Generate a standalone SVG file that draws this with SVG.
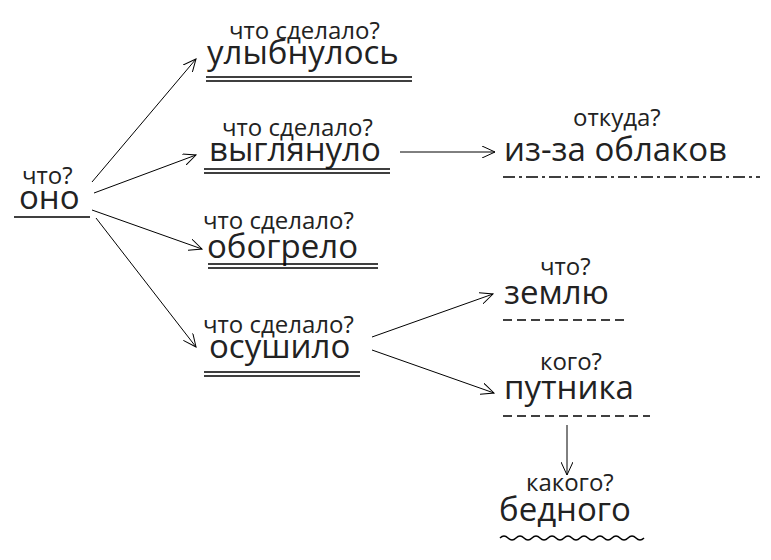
<svg xmlns="http://www.w3.org/2000/svg" width="771" height="560" viewBox="0 0 771 560">
<style>
text{font-family:"Open Sans","DejaVu Sans",sans-serif;fill:#222}
.q{font-size:24px}
.w{font-size:33px}
.l{stroke:#000;stroke-width:1.5;fill:none}
.c{stroke:#000;stroke-width:1;fill:none;marker-end:url(#a)}
</style>
<defs><marker id="a" markerWidth="14" markerHeight="12" refX="13" refY="6" orient="auto" markerUnits="userSpaceOnUse"><path d="M0,0 L13,6 L0,12" fill="none" stroke="#000" stroke-width="1"/></marker></defs>
<rect width="771" height="560" fill="#fff"/>
<g id="ono"><text class="q" x="22" y="184">что?</text><text class="w" x="19" y="209">оно</text><path class="l" d="M14 217H90"/></g>
<g id="n1"><text class="q" x="229" y="39">что сделало?</text><text class="w" x="207" y="64">улыбнулось</text><path class="l" d="M206 77H412M206 81H412"/></g>
<g id="n2"><text class="q" x="222" y="136">что сделало?</text><text class="w" x="209" y="161">выглянуло</text><path class="l" d="M204 169H390M204 173H390"/></g>
<g id="n3"><text class="q" x="203" y="229">что сделало?</text><text class="w" x="207" y="258">обогрело</text><path class="l" d="M208 264H378M208 268H378"/></g>
<g id="n4"><text class="q" x="203" y="333">что сделало?</text><text class="w" x="209" y="358">осушило</text><path class="l" d="M204 372H360M204 376H360"/></g>
<g id="n5"><text class="q" x="573" y="126">откуда?</text><text class="w" x="504" y="161">из-за облаков</text><path class="l" d="M503 177H760" stroke-dasharray="12 4 3 4"/></g>
<g id="n6"><text class="q" x="540" y="275">что?</text><text class="w" x="504" y="304">землю</text><path class="l" d="M503 320H628" stroke-dasharray="9 5"/></g>
<g id="n7"><text class="q" x="540" y="370">кого?</text><text class="w" x="504" y="399">путника</text><path class="l" d="M503 416H650" stroke-dasharray="9 5"/></g>
<g id="n8"><text class="q" x="526" y="491">какого?</text><text class="w" x="499" y="521">бедного</text><path class="l" d="M500 538q4 -4 8 0t8 0t8 0t8 0t8 0t8 0t8 0t8 0t8 0t8 0t8 0t8 0t8 0t8 0t8 0t8 0t8 0t8 0"/></g>
<g id="connectors">
<path class="c" d="M92 182L196 59"/>
<path class="c" d="M94 193L196 155"/>
<path class="c" d="M92 210L202 249"/>
<path class="c" d="M96 218L196 347"/>
<path class="c" d="M400 152H495"/>
<path class="c" d="M372 337L493 294"/>
<path class="c" d="M372 350L494 393"/>
<path class="c" d="M567 425V475"/>
</g>
</svg>
